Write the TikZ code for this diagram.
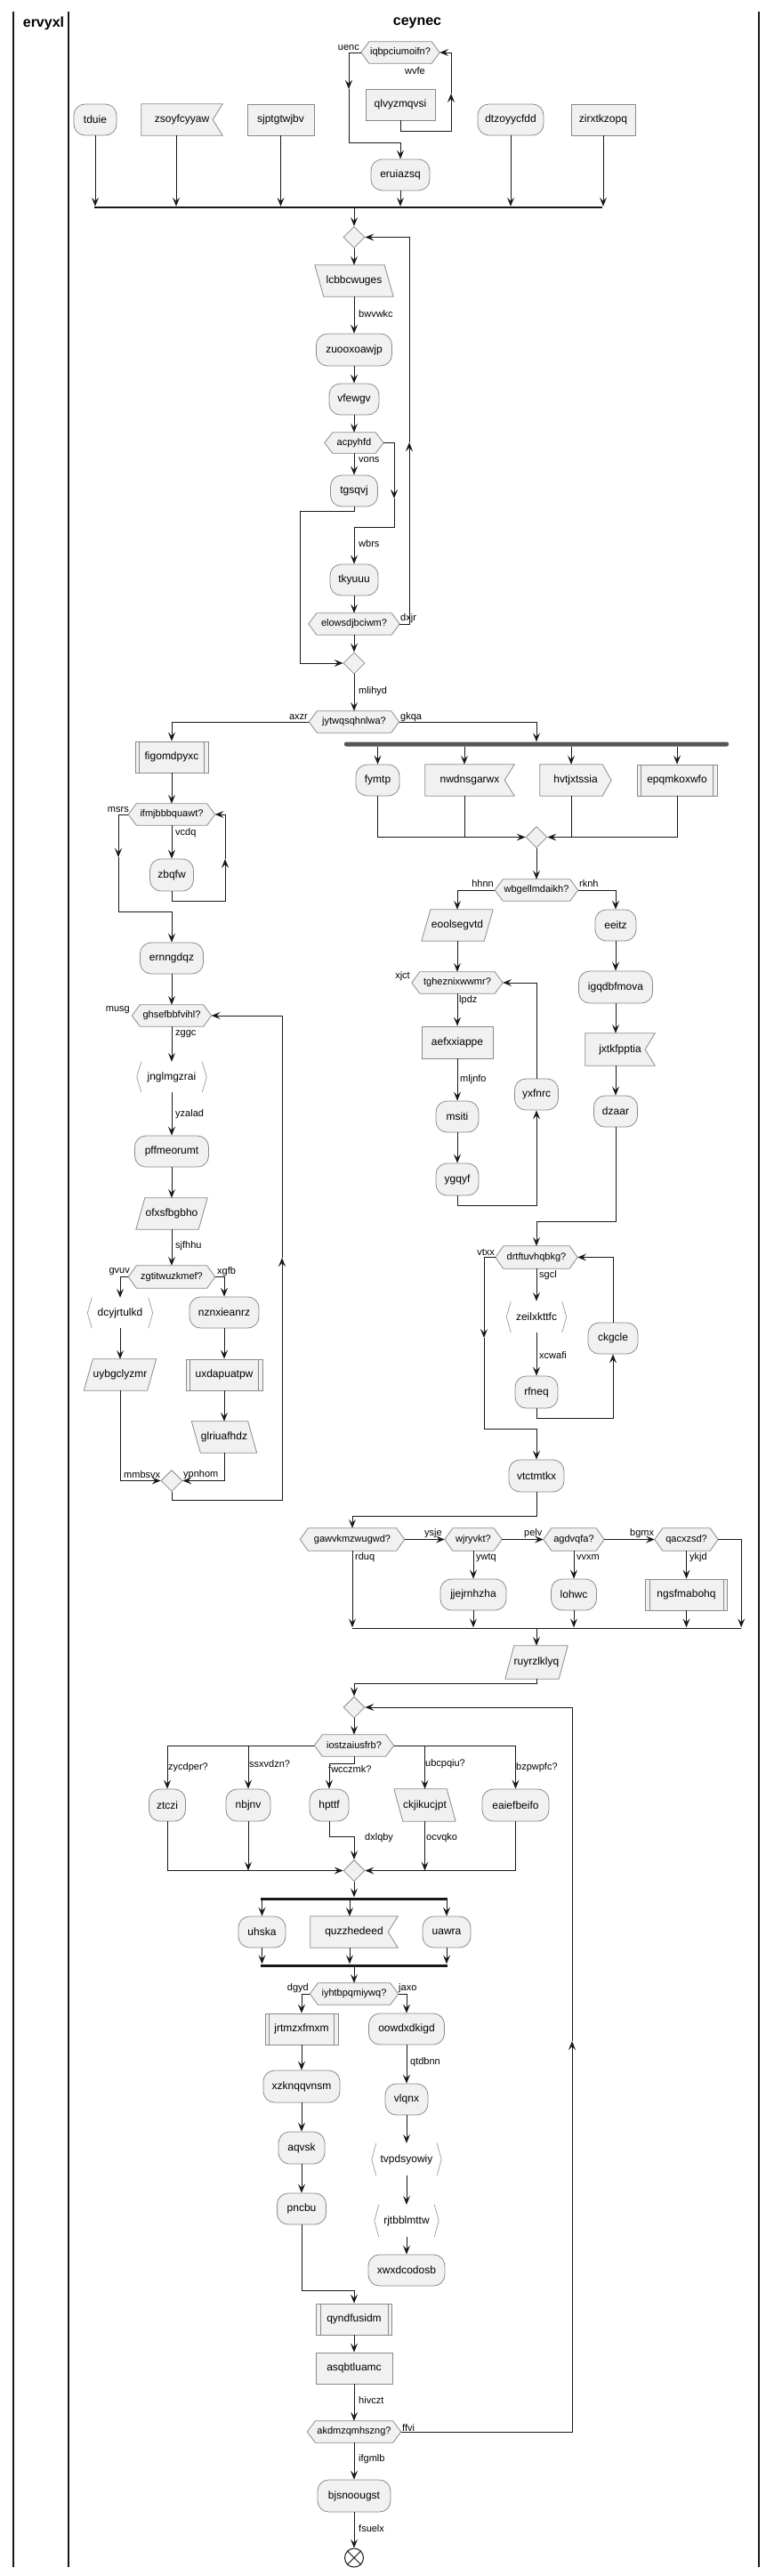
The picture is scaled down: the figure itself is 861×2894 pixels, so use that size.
\documentclass[tikz,border=0pt]{standalone}
\usepackage{fontspec}
\setmainfont{Liberation Sans}
\usetikzlibrary{arrows.meta,shapes.geometric,calc}
\pgfdeclarelayer{back}
\pgfdeclarelayer{bg}
\pgfsetlayers{back,bg,main}
\definecolor{bf}{HTML}{F1F1F1}
\definecolor{lc}{HTML}{8A8A8A}
\definecolor{ac}{HTML}{181818}
\definecolor{chc}{HTML}{9A9A9A}
\definecolor{forkc}{HTML}{555555}
\newcommand\fsz[1]{\fontsize{#1}{#1}\selectfont}
\tikzset{
  base/.style={inner sep=0pt, font=\fsz{12}},
  act/.style={base, draw=lc, line width=0.8pt, fill=bf, rounded corners=12.5pt},
  rct/.style={base, draw=lc, line width=0.8pt, fill=bf},
  shp/.style={base},
  hexs/.style={base, font=\fsz{11}},
  shpfill/.style={draw=lc, fill=bf, line width=0.8pt},
  lbl/.style={inner sep=0pt, font=\fsz{11}, anchor=west},
  lblr/.style={inner sep=0pt, font=\fsz{11}, anchor=east},
  arr/.style={draw=ac, line width=1pt, -{Stealth[length=10pt,width=8pt,inset=4pt]}},
  ln/.style={draw=ac, line width=1pt},
  dia/.style={diamond, aspect=1, draw=lc, fill=bf, line width=0.8pt, inner sep=0pt, minimum width=24pt, minimum height=24pt},
  bar/.style={fill=ac, inner sep=0pt, draw=none},
  forkbar/.style={fill=forkc, inner sep=0pt, draw=none, rounded corners=2pt},
  sz/.style 2 args={minimum width=#1pt, minimum height=#2pt},
  lane/.style={draw=ac, line width=1.5pt},
  title/.style={inner sep=0pt, font=\fsz{16}\bfseries},
}
\newcommand\hexbg[1]{\begin{pgfonlayer}{bg}\path[shpfill] (#1.west) -- ([xshift=9pt]#1.north west) -- ([xshift=-9pt]#1.north east) -- (#1.east) -- ([xshift=-9pt]#1.south east) -- ([xshift=9pt]#1.south west) -- cycle;\end{pgfonlayer}}
\newcommand\flagbg[1]{\begin{pgfonlayer}{bg}\path[shpfill] (#1.north west) -- (#1.north east) -- ([xshift=-11pt]#1.east) -- (#1.south east) -- (#1.south west) -- cycle;\end{pgfonlayer}}
\newcommand\ptrbg[1]{\begin{pgfonlayer}{bg}\path[shpfill] (#1.north west) -- ([xshift=-10pt]#1.north east) -- (#1.east) -- ([xshift=-10pt]#1.south east) -- (#1.south west) -- cycle;\end{pgfonlayer}}
\newcommand\parafbg[1]{\begin{pgfonlayer}{bg}\path[shpfill] ([xshift=10pt]#1.north west) -- (#1.north east) -- ([xshift=-10pt]#1.south east) -- (#1.south west) -- cycle;\end{pgfonlayer}}
\newcommand\parabbg[1]{\begin{pgfonlayer}{bg}\path[shpfill] (#1.north west) -- ([xshift=-10pt]#1.north east) -- (#1.south east) -- ([xshift=10pt]#1.south west) -- cycle;\end{pgfonlayer}}
\newcommand\chevln[1]{\draw[chc, line width=0.7pt] ([xshift=5pt]#1.north west) -- (#1.west) -- ([xshift=5pt]#1.south west) ([xshift=-5pt]#1.north east) -- (#1.east) -- ([xshift=-5pt]#1.south east);}
\newcommand\subln[1]{\draw[lc, line width=0.8pt] ([xshift=5pt]#1.north west) -- ([xshift=5pt]#1.south west) ([xshift=-5pt]#1.north east) -- ([xshift=-5pt]#1.south east);}
\begin{document}
\begin{tikzpicture}[x=1pt,y=-1pt]
\useasboundingbox (0,0) rectangle (861,2894);
\begin{pgfonlayer}{back}\fill[white] (0,0) rectangle (861,2894);\end{pgfonlayer}
% lanes
\draw[lane] (15,13) -- (15,2884);
\draw[lane] (77,13) -- (77,2884);
\draw[lane] (853,13) -- (853,2884);
\node[title] (t1) at (49,26) {ervyxl};
\node[title] (t2) at (469,26) {ceynec};

% ---------- top split ----------
\node[act,sz={48}{35}] (a1) at (107,134.5) {tduie};
\node[shp,sz={91}{35}] (a2) at (204.5,134.5) {zsoyfcyyaw}; \flagbg{a2}
\node[rct,sz={75}{35}] (a3) at (315.5,134.5) {sjptgtwjbv};
\node[hexs,sz={88}{24}] (hx1) at (450,59) {iqbpciumoifn?}; \hexbg{hx1}
\node[rct,sz={78}{35}] (q1) at (450,117.5) {qlvyzmqvsi};
\node[act,sz={66}{35}] (e1) at (450,196.5) {eruiazsq};
\node[act,sz={74}{35}] (a4) at (574,134.5) {dtzoyycfdd};
\node[rct,sz={72}{35}] (a5) at (678,134.5) {zirxtkzopq};
\node[bar,sz={571}{2}] (bar1) at (391.5,233) {};
\node[lblr] (l1) at (404,54) {uenc};
\node[lbl] (l2) at (455,80) {wvfe};

\coordinate (c1) at (392,100);
\draw[arr] (hx1.west) -| (c1);
\draw[arr] (c1) -- ++(0,60) -| (e1.north);
\coordinate (c2) at (507,105);
\draw[arr] (q1.south) -- ++(0,12) -| (c2);
\draw[arr] (c2) |- (hx1.east);
\draw[arr] (a1.south) -- (a1.south |- bar1.north);
\coordinate (a2b) at ([xshift=-6.5pt]a2.south);
\draw[arr] (a2b) -- (a2b |- bar1.north);
\draw[arr] (a3.south) -- (a3.south |- bar1.north);
\draw[arr] (e1.south) -- (e1.south |- bar1.north);
\draw[arr] (a4.south) -- (a4.south |- bar1.north);
\draw[arr] (a5.south) -- (a5.south |- bar1.north);

% ---------- repeat loop ----------
\node[dia] (d1) at (398,266.5) {};
\draw[arr] (bar1.south -| d1.north) -- (d1.north);
\node[shp,sz={88}{35}] (p1) at (398,315.5) {lcbbcwuges}; \parabbg{p1}
\node[lbl] (l3) at (403,353) {bwvwkc};
\node[act,sz={85}{36}] (r1) at (398,393) {zuooxoawjp};
\node[act,sz={56}{35}] (r2) at (398,448.5) {vfewgv};
\node[hexs,sz={66}{23}] (hx2) at (398,497.5) {acpyhfd}; \hexbg{hx2}
\node[lbl] (l4) at (403,517) {vons};
\node[act,sz={53}{35}] (r3) at (398,551.5) {tgsqvj};
\node[lbl] (l5) at (403,611) {wbrs};
\node[act,sz={54}{35}] (r4) at (398,651.5) {tkyuuu};
\node[hexs,sz={102}{24}] (hx3) at (398,701) {elowsdjbciwm?}; \hexbg{hx3}
\node[lbl] (l6) at (450,695) {dxjr};
\node[dia] (d2) at (398,745) {};
\node[lbl] (l7) at (403,777) {mlihyd};
\node[hexs,sz={101}{24}] (hx4) at (398,811) {jytwqsqhnlwa?}; \hexbg{hx4}
\node[lblr] (l8) at (346,806) {axzr};
\node[lbl] (l9) at (450,806) {gkqa};

\draw[arr] (d1.south) -- (p1.north);
\draw[arr] (p1.south) -- (r1.north);
\draw[arr] (r1.south) -- (r2.north);
\draw[arr] (r2.south) -- (hx2.north);
\draw[arr] (hx2.south) -- (r3.north);
\coordinate (c3) at (443,560);
\draw[arr] (hx2.east) -| (c3);
\draw[arr] (c3) -- ++(0,32) -| (r4.north);
\draw[arr] (r4.south) -- (hx3.north);
\coordinate (c4) at (460,497);
\draw[arr] (hx3.east) -| (c4);
\draw[arr] (c4) |- (d1.east);
\coordinate (c5) at (337,574);
\draw[arr] (r3.south) |- (c5) |- (d2.west);
\draw[arr] (hx3.south) -- (d2.north);
\draw[arr] (d2.south) -- (hx4.north);

% ---------- left branch ----------
\node[rct,sz={82}{35}] (f1) at (193,850.5) {figomdpyxc}; \subln{f1}
\node[hexs,sz={97}{24}] (hx5) at (193,915) {ifmjbbbquawt?}; \hexbg{hx5}
\node[lblr] (l10) at (145,910) {msrs};
\node[lbl] (l11) at (197,936) {vcdq};
\node[act,sz={49}{36}] (z1) at (193,983) {zbqfw};
\node[act,sz={71}{35}] (r5) at (193,1076.5) {ernngdqz};
\node[hexs,sz={89}{24}] (hx6) at (193,1141) {ghsefbbfvihl?}; \hexbg{hx6}
\node[lblr] (l12) at (146,1135) {musg};
\node[lbl] (l13) at (197,1162) {zggc};
\node[shp,sz={78}{34}] (ch1) at (193,1210) {jnglmgzrai}; \chevln{ch1}
\node[lbl] (l14) at (197,1252) {yzalad};
\node[act,sz={83}{35}] (r6) at (193,1293.5) {pffmeorumt};
\node[shp,sz={80}{35}] (p2) at (193,1363.5) {ofxsfbgbho}; \parafbg{p2}
\node[lbl] (l15) at (197,1400) {sjfhhu};
\node[hexs,sz={97}{25}] (hx7) at (193,1434.5) {zgtitwuzkmef?}; \hexbg{hx7}
\node[lblr] (l16) at (146,1429) {gvuv};
\node[lbl] (l17) at (244,1429) {xgfb};
\node[shp,sz={73}{34}] (ch2) at (135,1475) {dcyjrtulkd}; \chevln{ch2}
\node[act,sz={78}{35}] (r7) at (252,1474.5) {nznxieanrz};
\node[shp,sz={81}{35}] (p3) at (135,1544.5) {uybgclyzmr}; \parafbg{p3}
\node[rct,sz={86}{35}] (s1) at (252,1544.5) {uxdapuatpw}; \subln{s1}
\node[shp,sz={73}{35}] (p4) at (252,1614.5) {glriuafhdz}; \parabbg{p4}
\node[dia] (d3) at (193,1663.5) {};
\node[lbl] (l18) at (139,1657) {mmbsvx};
\node[lbl] (l19) at (206,1657) {ypnhom};

\draw[arr] (hx4.west) -| (f1.north);
\draw[arr] (f1.south) -- (hx5.north);
\coordinate (c6) at (133,963);
\draw[arr] (hx5.west) -| (c6);
\draw[arr] (c6) -- ++(0,61) -| (r5.north);
\draw[arr] (hx5.south) -- (z1.north);
\coordinate (c7) at (253,965);
\draw[arr] (z1.south) -- ++(0,11) -| (c7);
\draw[arr] (c7) |- (hx5.east);
\draw[arr] (r5.south) -- (hx6.north);
\draw[arr] (hx6.south) -- (ch1.north);
\draw[arr] (ch1.south) -- (r6.north);
\draw[arr] (r6.south) -- (p2.north);
\draw[arr] (p2.south) -- (hx7.north);
\draw[arr] (hx7.west) -| (ch2.north);
\draw[arr] (hx7.east) -| (r7.north);
\draw[arr] (ch2.south) -- (p3.north);
\draw[arr] (r7.south) -- (s1.north);
\draw[arr] (s1.south) -- (p4.north);
\draw[arr] (p3.south) |- (d3.west);
\draw[arr] (p4.south) |- (d3.east);
\coordinate (c8) at (317,1413);
\draw[arr] (d3.south) -- ++(0,10) -| (c8);
\draw[arr] (c8) |- (hx6.east);

% ---------- right branch ----------
\node[forkbar,sz={432}{5}] (bar2) at (603,836) {};
\draw[arr] (hx4.east) -| (bar2.north);
\node[act,sz={49}{35}] (fy1) at (424.5,876.5) {fymtp};
\node[shp,sz={100}{35}] (fl1) at (528,876.5) {nwdnsgarwx}; \flagbg{fl1}
\node[shp,sz={80}{35}] (pt1) at (647,876.5) {hvtjxtssia}; \ptrbg{pt1}
\node[rct,sz={90}{35}] (s2) at (761,876.5) {epqmkoxwfo}; \subln{s2}
\node[dia] (d4) at (603,940.5) {};
\draw[arr] (bar2.south -| fy1.north) -- (fy1.north);
\coordinate (fl1t) at ([xshift=-6pt]fl1.north);
\coordinate (fl1b) at ([xshift=-6pt]fl1.south);
\draw[arr] (bar2.south -| fl1t) -- (fl1t);
\coordinate (pt1t) at ([xshift=-5pt]pt1.north);
\coordinate (pt1b) at ([xshift=-5pt]pt1.south);
\draw[arr] (bar2.south -| pt1t) -- (pt1t);
\draw[arr] (bar2.south -| s2.north) -- (s2.north);
\draw[arr] (fy1.south) |- (d4.west);
\draw[ln] (fl1b) -- (fl1b |- d4.west);
\draw[ln] (pt1b) -- (pt1b |- d4.west);
\draw[arr] (s2.south) |- (d4.east);

\node[hexs,sz={93}{24}] (hx8) at (603,1000) {wbgellmdaikh?}; \hexbg{hx8}
\node[lblr] (l20) at (555,993) {hhnn};
\node[lbl] (l21) at (651,993) {rknh};
\node[shp,sz={80}{35}] (p5) at (514,1039.5) {eoolsegvtd}; \parafbg{p5}
\node[act,sz={46}{35}] (r8) at (692,1039.5) {eeitz};
\node[hexs,sz={102}{24}] (hx9) at (514,1104) {tgheznixwwmr?}; \hexbg{hx9}
\node[lblr] (l22) at (461,1097) {xjct};
\node[lbl] (l23) at (516,1124) {lpdz};
\node[rct,sz={80}{36}] (rt1) at (514,1171) {aefxxiappe};
\node[lbl] (l24) at (517,1213) {mljnfo};
\node[act,sz={48}{35}] (r9) at (514,1254.5) {msiti};
\node[act,sz={48}{36}] (r10) at (514,1325) {ygqyf};
\node[act,sz={49}{35}] (r11) at (603,1229.5) {yxfnrc};
\node[act,sz={83}{36}] (r12) at (692,1109) {igqdbfmova};
\node[shp,sz={78}{36}] (fl2) at (697,1179) {jxtkfpptia}; \flagbg{fl2}
\node[act,sz={49}{35}] (r13) at (692,1248.5) {dzaar};
\node[hexs,sz={92}{25}] (hx10) at (603,1412.5) {drtftuvhqbkg?}; \hexbg{hx10}
\node[lblr] (l25) at (556,1407) {vtxx};
\node[lbl] (l26) at (606,1433) {sgcl};
\node[shp,sz={67}{35}] (ch3) at (603,1479.5) {zeilxkttfc}; \chevln{ch3}
\node[lbl] (l27) at (606,1523) {xcwafi};
\node[act,sz={48}{36}] (r14) at (603,1564) {rfneq};
\node[act,sz={56}{35}] (r15) at (689,1503.5) {ckgcle};
\node[act,sz={62}{36}] (r16) at (603,1658) {vtctmtkx};

\draw[arr] (d4.south) -- (hx8.north);
\draw[arr] (hx8.west) -| (p5.north);
\draw[arr] (hx8.east) -| (r8.north);
\draw[arr] (p5.south) -- (hx9.north);
\draw[arr] (hx9.south) -- (rt1.north);
\draw[arr] (rt1.south) -- (r9.north);
\draw[arr] (r9.south) -- (r10.north);
\draw[arr] (r10.south) -- ++(0,11) -| (r11.south);
\draw[arr] (r11.north) |- (hx9.east);
\draw[arr] (r8.south) -- (r12.north);
\coordinate (fl2t) at ([xshift=-5pt]fl2.north);
\coordinate (fl2b) at ([xshift=-5pt]fl2.south);
\draw[arr] (r12.south) -- (fl2t);
\draw[arr] (fl2b) -- (r13.north);
\draw[arr] (r13.south) -- ++(0,106) -| (hx10.north);
\draw[arr] (hx10.south) -- (ch3.north);
\draw[arr] (ch3.south) -- (r14.north);
\draw[arr] (r14.south) -- ++(0,11) -| (r15.south);
\draw[arr] (r15.north) |- (hx10.east);
\coordinate (c9) at (544,1503);
\draw[arr] (hx10.west) -| (c9);
\draw[arr] (c9) -- ++(0,102) -| (r16.north);

% ---------- if/elseif chain ----------
\node[hexs,sz={117}{25}] (hx11) at (396,1729.5) {gawvkmzwugwd?}; \hexbg{hx11}
\node[hexs,sz={64}{25}] (hx12) at (532,1729.5) {wjryvkt?}; \hexbg{hx12}
\node[hexs,sz={68}{25}] (hx13) at (645,1729.5) {agdvqfa?}; \hexbg{hx13}
\node[hexs,sz={71}{25}] (hx14) at (771.5,1729.5) {qacxzsd?}; \hexbg{hx14}
\node[lbl] (l28) at (477,1723) {ysje};
\node[lbl] (l29) at (589,1723) {pelv};
\node[lbl] (l30) at (708,1723) {bgmx};
\node[lbl] (l31) at (399,1750) {rduq};
\node[lbl] (l32) at (535,1750) {ywtq};
\node[lbl] (l33) at (648,1750) {vvxm};
\node[lbl] (l34) at (775,1750) {ykjd};
\node[act,sz={74}{35}] (r17) at (532,1791.5) {jjejrnhzha};
\node[act,sz={51}{35}] (r18) at (645,1791.5) {lohwc};
\node[rct,sz={92}{35}] (s3) at (771.5,1791.5) {ngsfmabohq}; \subln{s3}
\node[bar,sz={437}{1}] (bar3) at (614.5,1829) {};
\node[shp,sz={70}{37}] (p6) at (603,1867.5) {ruyrzlklyq}; \parafbg{p6}

\draw[arr] (r16.south) -- ++(0,27) -| (hx11.north);
\draw[arr] (hx11.east) -- (hx12.west);
\draw[arr] (hx12.east) -- (hx13.west);
\draw[arr] (hx13.east) -- (hx14.west);
\draw[arr] (hx14.east) -| (bar3.north east);
\draw[arr] (hx11.south) -- (hx11.south |- bar3.north);
\draw[arr] (hx12.south) -- (r17.north);
\draw[arr] (r17.south) -- (r17.south |- bar3.north);
\draw[arr] (hx13.south) -- (r18.north);
\draw[arr] (r18.south) -- (r18.south |- bar3.north);
\draw[arr] (hx14.south) -- (s3.north);
\draw[arr] (s3.south) -- (s3.south |- bar3.north);
\draw[arr] (bar3.south -| p6.north) -- (p6.north);

% ---------- second repeat ----------
\node[dia] (d5) at (398,1918) {};
\node[hexs,sz={89}{24}] (hx15) at (398,1961) {iostzaiusfrb?}; \hexbg{hx15}
\node[lbl] (l35) at (189,1986) {zycdper?};
\node[lbl] (l36) at (280,1982) {ssxvdzn?};
\node[lbl] (l37) at (369,1988) {fwcczmk?};
\node[lbl] (l38) at (478,1982) {ubcpqiu?};
\node[lbl] (l39) at (580,1986) {bzpwpfc?};
\node[act,sz={41}{36}] (sw1) at (188,2028) {ztczi};
\node[act,sz={50}{36}] (sw2) at (279,2028) {nbjnv};
\node[act,sz={44}{36}] (sw3) at (370,2028) {hpttf};
\node[shp,sz={69}{36}] (sw4) at (477.5,2028) {ckjikucjpt}; \parabbg{sw4}
\node[act,sz={75}{36}] (sw5) at (579.5,2028) {eaiefbeifo};
\node[dia] (d6) at (398,2101.5) {};
\node[lbl] (l40) at (410,2065) {dxlqby};
\node[lbl] (l41) at (479,2065) {ocvqko};
\node[bar,sz={210}{3}] (bar4) at (398,2133) {};
\node[act,sz={53}{35}] (fk1) at (294.5,2170.5) {uhska};
\node[shp,sz={98}{35}] (fk2) at (398,2170.5) {quzzhedeed}; \flagbg{fk2}
\node[act,sz={54}{35}] (fk3) at (502,2170.5) {uawra};
\node[bar,sz={210}{3}] (bar5) at (398,2208) {};

\draw[arr] (p6.south) -- ++(0,5) -| (d5.north);
\draw[arr] (d5.south) -- (hx15.north);
\draw[arr] (hx15.west) -| (sw1.north);
\draw[arr] (hx15.west -| sw2.north) -- (sw2.north);
\draw[arr] (hx15.south) -- ++(0,8) -| (sw3.north);
\draw[arr] (hx15.east -| sw4.north) -- (sw4.north);
\draw[arr] (hx15.east) -| (sw5.north);
\draw[arr] (sw1.south) |- (d6.west);
\draw[arr] (sw2.south) -- (sw2.south |- d6.west);
\draw[arr] (sw3.south) -- ++(0,17) -| (d6.north);
\draw[arr] (sw4.south) -- (sw4.south |- d6.west);
\draw[arr] (sw5.south) |- (d6.east);
\draw[arr] (d6.south) -- (bar4.north);
\coordinate (fk2t) at ([xshift=-5pt]fk2.north);
\coordinate (fk2b) at ([xshift=-5pt]fk2.south);
\draw[arr] (bar4.south -| fk1.north) -- (fk1.north);
\draw[arr] (bar4.south -| fk2t) -- (fk2t);
\draw[arr] (bar4.south -| fk3.north) -- (fk3.north);
\draw[arr] (fk1.south) -- (fk1.south |- bar5.north);
\draw[arr] (fk2b) -- (fk2b |- bar5.north);
\draw[arr] (fk3.south) -- (fk3.south |- bar5.north);

\node[hexs,sz={99}{24}] (hx16) at (398,2240) {iyhtbpqmiywq?}; \hexbg{hx16}
\node[lblr] (l42) at (347,2234) {dgyd};
\node[lbl] (l43) at (448,2234) {jaxo};
\node[rct,sz={82}{35}] (s4) at (339,2279.5) {jrtmzxfmxm}; \subln{s4}
\node[act,sz={85}{35}] (r19) at (457,2279.5) {oowdxdkigd};
\node[act,sz={86}{36}] (r20) at (339,2344) {xzknqqvnsm};
\node[lbl] (l44) at (461,2317) {qtdbnn};
\node[act,sz={48}{35}] (r23) at (457,2358.5) {vlqnx};
\node[act,sz={52}{36}] (r21) at (339,2413) {aqvsk};
\node[shp,sz={78}{36}] (ch4) at (457,2426) {tvpdsyowiy}; \chevln{ch4}
\node[act,sz={55}{35}] (r22) at (339,2481.5) {pncbu};
\node[shp,sz={72}{36}] (ch5) at (457,2495) {rjtbblmttw}; \chevln{ch5}
\node[act,sz={86}{35}] (r24) at (457,2550.5) {xwxdcodosb};
\node[rct,sz={85}{35}] (s5) at (398,2605.5) {qyndfusidm}; \subln{s5}
\node[rct,sz={86}{35}] (rt2) at (398,2660.5) {asqbtluamc};
\node[lbl] (l45) at (403,2697) {hivczt};
\node[hexs,sz={105}{24}] (hx17) at (398,2732) {akdmzqmhszng?}; \hexbg{hx17}
\node[lbl] (l46) at (452,2727) {ffvi};
\node[lbl] (l47) at (403,2763) {ifgmlb};
\node[act,sz={82}{36}] (r25) at (398,2804) {bjsnoougst};
\node[lbl] (l48) at (403,2841) {fsuelx};
\node[circle, draw=ac, line width=1pt, minimum size=21pt, inner sep=0pt] (endn) at (398,2873.5) {};
\draw[ac, line width=1pt] (endn.north west) -- (endn.south east) (endn.north east) -- (endn.south west);

\draw[arr] (bar5.south) -- (hx16.north);
\draw[arr] (hx16.west) -| (s4.north);
\draw[arr] (hx16.east) -| (r19.north);
\draw[arr] (s4.south) -- (r20.north);
\draw[arr] (r20.south) -- (r21.north);
\draw[arr] (r21.south) -- (r22.north);
\draw[arr] (r19.south) -- (r23.north);
\draw[arr] (r23.south) -- (ch4.north);
\draw[arr] (ch4.south) -- (ch5.north);
\draw[arr] (ch5.south) -- (r24.north);
\draw[arr] (r22.south) -- ++(0,74) -| (s5.north);
\draw[arr] (s5.south) -- (rt2.north);
\draw[arr] (rt2.south) -- (hx17.north);
\coordinate (c11) at (643,2293);
\draw[arr] (hx17.east) -| (c11);
\draw[arr] (c11) |- (d5.east);
\draw[arr] (hx17.south) -- (r25.north);
\draw[arr] (r25.south) -- (endn.north);
\end{tikzpicture}
\end{document}
